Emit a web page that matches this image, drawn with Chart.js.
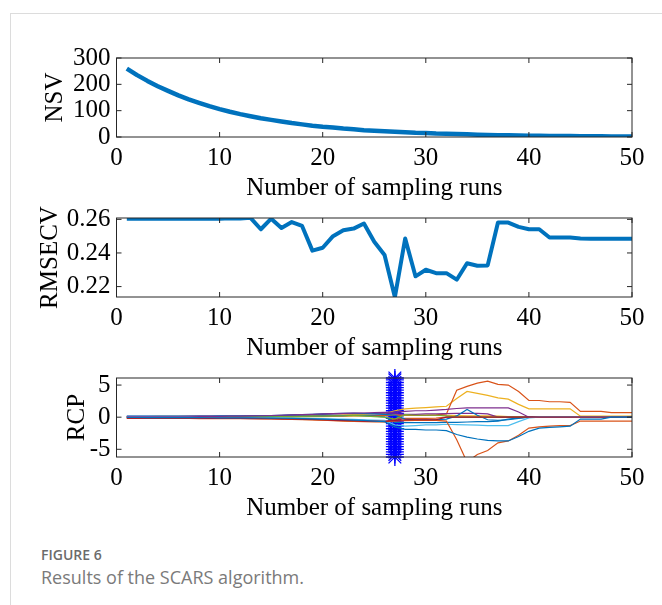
<!DOCTYPE html>
<html>
<head>
<meta charset="utf-8">
<script src="https://cdn.jsdelivr.net/npm/chart.js@4.4.0/dist/chart.umd.min.js"></script>
<style>
  body { margin: 0; width: 662px; height: 605px; background: #fff; overflow: hidden; position: relative; }
  .card { position: absolute; left: 10px; top: 13px; width: 700px; height: 700px; border: 1px solid #dcdcdc; }
  .plot { position: absolute; left: 0; width: 662px; height: 189px; }
  .fig { position: absolute; left: 41px; top: 545px; font: 600 14px "Open Sans", sans-serif; color: #6b6b6b; }
  .cap { position: absolute; left: 41px; top: 565px; font: 400 18px "Open Sans", sans-serif; color: #7a7a7a; }
</style>
</head>
<body>
<div class="card"></div>
<div class="plot" style="top:18px"><canvas id="nsvChart"></canvas></div>
<div class="plot" style="top:178px"><canvas id="rmsecvChart"></canvas></div>
<div class="plot" style="top:338px"><canvas id="rcpChart"></canvas></div>
<div class="fig">FIGURE 6</div>
<div class="cap">Results of the SCARS algorithm.</div>
<script>
const runs = [1,2,3,4,5,6,7,8,9,10,11,12,13,14,15,16,17,18,19,20,21,22,23,24,25,26,27,28,29,30,31,32,33,34,35,36,37,38,39,40,41,42,43,44,45,46,47,48,49,50];
const xTicks = [0, 10, 20, 30, 40, 50];

const nsv = [260,235,213,193,175,158,143,130,117,106,
             96,87,79,71,65,59,53,48,43,39,
             36,32,29,26,24,22,20,18,16,15,
             13,12,11,10,9,8,7,7,6,5,
             5,4,4,4,3,3,3,2,2,2];
const nsvTicks = [0, 100, 200, 300];

const rmsecv = [0.2604,0.2604,0.2604,0.2604,0.2604,0.2604,0.2604,0.2604,0.2604,0.2604,
                0.2606,0.2605,0.2609,0.2541,0.2604,0.2549,0.2584,0.2561,0.2414,0.2431,
                0.2500,0.2535,0.2545,0.2575,0.2467,0.2388,0.2137,0.2486,0.2261,0.2300,
                0.2280,0.2280,0.2241,0.2339,0.2324,0.2326,0.2581,0.2581,0.2555,0.2541,
                0.2541,0.2492,0.2492,0.2492,0.2486,0.2485,0.2485,0.2485,0.2485,0.2485];
const rmsecvTicks = [0.22, 0.24, 0.26];

// regression coefficient paths
const rcpA = [-0.05,-0.05,-0.06,-0.06,-0.07,-0.07,-0.08,-0.08,-0.09,-0.1,
              -0.1,-0.11,-0.12,-0.13,-0.15,-0.17,-0.2,-0.23,-0.27,-0.3,
              -0.35,-0.4,-0.45,-0.5,-0.6,-0.7,-1.5,-1.9,-1.9,-2.0,
              -2.0,-2.1,-2.7,-3.1,-3.4,-3.6,-3.7,-3.7,-3.0,-2.2,
              -1.7,-1.6,-1.5,-1.4,-0.3,-0.3,-0.3,0,0,0];
const rcpB = [0.05,0.05,0.06,0.06,0.07,0.07,0.08,0.08,0.09,0.1,
              0.1,0.1,0.11,0.12,0.12,0.13,0.14,0.15,0.16,0.18,
              0.2,0.2,0.22,0.24,0.25,0.27,0.3,0.3,0.3,0.3,
              0.35,0.5,4.2,4.8,5.3,5.6,5.1,5.0,4.0,2.6,
              2.6,2.4,2.4,2.3,0.9,0.9,0.9,0.7,0.7,0.7];
const rcpC = [-0.1,-0.1,-0.1,-0.11,-0.11,-0.12,-0.12,-0.13,-0.13,-0.14,
              -0.15,-0.16,-0.17,-0.19,-0.21,-0.24,-0.28,-0.33,-0.4,-0.45,
              -0.5,-0.55,-0.6,-0.62,-0.65,-0.68,-0.6,-0.55,-0.5,-0.5,
              -0.5,-0.6,-3.5,-7.0,-5.8,-5.2,-4.0,-3.7,-2.8,-1.7,
              -1.5,-1.4,-1.3,-1.3,-0.6,-0.6,-0.6,-0.6,-0.6,-0.6];
const rcpD = [0.1,0.1,0.1,0.11,0.11,0.12,0.12,0.12,0.13,0.13,
              0.14,0.14,0.15,0.16,0.17,0.18,0.2,0.22,0.25,0.28,
              0.3,0.35,0.4,0.45,0.5,0.6,1.0,1.3,1.4,1.5,
              1.6,1.7,2.9,4.0,3.7,3.4,3.0,2.8,2.0,1.3,
              1.3,1.3,1.3,1.3,0.15,0.15,0.15,0.15,0.15,0.15];
const rcpE = [0.08,0.08,0.09,0.09,0.1,0.1,0.11,0.12,0.13,0.14,
              0.15,0.17,0.19,0.22,0.26,0.3,0.35,0.4,0.45,0.5,
              0.55,0.6,0.62,0.65,0.7,0.75,0.8,0.9,1.0,1.0,
              1.1,1.2,1.35,1.45,1.45,1.45,1.45,1.45,0.8,0,
              0,0,0,0,0,0,0,0,0,0];
const rcpF = [0.02,0.02,0.02,0.03,0.03,0.03,0.03,0.04,0.04,0.04,
              0.05,0.05,0.06,0.06,0.07,0.08,0.1,0.12,0.15,0.18,
              0.2,0.22,0.25,0.2,0.1,0,-0.3,0.4,0.3,0.3,
              0.3,0.2,0,0,0,0,0,0,0,0,
              0,0,0,0,0,0,0,0,0,0];
const rcpG = [-0.02,-0.02,-0.03,-0.03,-0.03,-0.04,-0.04,-0.05,-0.05,-0.06,
              -0.06,-0.07,-0.08,-0.09,-0.1,-0.12,-0.14,-0.16,-0.2,-0.24,
              -0.28,-0.3,-0.35,-0.4,-0.45,-0.5,-1.2,-1.4,-1.3,-1.2,
              -1.2,-1.1,-1.15,-1.2,-1.25,-1.3,-1.3,-1.3,-0.7,-0.1,
              0,0,0,0,0,0,0,0,0,0];
const rcpH = [-0.15,-0.15,-0.15,-0.15,-0.16,-0.16,-0.17,-0.17,-0.18,-0.18,
              -0.19,-0.2,-0.21,-0.22,-0.24,-0.26,-0.28,-0.3,-0.35,-0.4,
              -0.45,-0.5,-0.55,-0.6,-0.62,-0.65,-0.5,-0.4,-0.4,-0.4,
              -0.4,0,0,0,0,0,0,0,0,0,
              0,0,0,0,0,0,0,0,0,0];
const rcpI = [0.15,0.15,0.15,0.16,0.16,0.17,0.17,0.18,0.18,0.19,
              0.2,0.21,0.22,0.24,0.26,0.3,0.35,0.4,0.45,0.5,
              0.55,0.6,0.6,0.55,0.5,0.45,0.3,-0.3,-0.4,-0.4,
              -0.4,-0.3,0.2,1.2,0.3,-0.4,-0.5,-0.4,-0.2,0,
              0,0,0,0,0,0,0,0,0,0];
const rcpJ = [-0.2,-0.2,-0.2,-0.2,-0.2,-0.2,-0.2,-0.21,-0.21,-0.22,
              -0.22,-0.23,-0.24,-0.25,-0.27,-0.3,-0.33,-0.37,-0.42,-0.48,
              -0.55,-0.6,-0.65,-0.7,-0.72,-0.75,-0.3,-0.2,-0.2,-0.2,
              -0.15,0,0,0,0,0,0,0,0,0,
              0,0,0,0,0,0,0,0,0,0];
const rcpK = [-0.05,-0.05,-0.05,-0.05,-0.05,-0.05,-0.05,-0.05,-0.05,-0.05,
              -0.05,-0.05,-0.04,-0.03,-0.02,0,0.02,0.05,0.08,0.1,
              0.12,0.15,0.18,0.2,0.22,0.25,0.4,0.3,0.3,0.3,
              0.3,0.3,0.25,0.2,0.2,0.2,0.15,0.1,0.05,0,
              0,0,0,0,0,0,0,0,0,0];
const rcpL = [0.03,0.03,0.03,0.03,0.04,0.04,0.04,0.04,0.05,0.05,
              0.05,0.06,0.06,0.07,0.08,0.1,0.12,0.15,0.18,0.2,
              0.22,0.25,0.3,0.25,0.15,0.05,-0.8,-0.85,-0.85,-0.85,
              -0.85,-0.8,-0.8,-0.75,-0.7,-0.7,-0.6,-0.3,-0.1,0,
              0,0,0,0,0,0,0,0,0,0];
const rcpM = [0.12,0.12,0.12,0.13,0.13,0.14,0.14,0.15,0.15,0.16,
              0.17,0.18,0.2,0.22,0.25,0.28,0.32,0.36,0.4,0.45,
              0.5,0.55,0.6,0.6,0.55,0.5,0.5,0.45,0.45,0.5,
              0.5,0.55,0.6,0.6,0.6,0.5,0,0,0,0,
              0,0,0,0,0,0,0,0,0,0];
const rcpSeries = [rcpA, rcpH, rcpC, rcpG, rcpE, rcpF, rcpL, rcpI, rcpM, rcpJ, rcpB, rcpD, rcpK];
const rcpColors = ['#0072BD', '#A2142F', '#D95319', '#4DBEEE', '#7E2F8E', '#77AC30', '#0072BD',
                   '#0072BD', '#7E2F8E', '#D95319', '#D95319', '#EDB120', '#EDB120'];
const rcpTicks = [-5, 0, 5];

// optimal run marked with a column of asterisks
const bestRun = 27;
const markY = [-6.2,-5.8,-5.4,-5.0,-4.6,-4.2,-3.8,-3.4,-3.0,-2.6,-2.2,-1.8,-1.4,-1.0,-0.6,-0.2,
               0.2,0.6,1.0,1.4,1.8,2.2,2.6,3.0,3.4,3.8,4.2,4.6,5.0,5.4,5.8,6.1];

const serif = '"Liberation Serif", "Times New Roman", serif';
Chart.defaults.font.family = serif;
Chart.defaults.color = '#000';

const frame = {
  id: 'frame',
  afterDraw(chart) {
    const {ctx, chartArea: a, scales: {x, y}} = chart;
    ctx.save();
    ctx.strokeStyle = '#262626';
    ctx.lineWidth = 1;
    ctx.strokeRect(a.left, a.top, a.right - a.left, a.bottom - a.top);
    ctx.beginPath();
    x.ticks.forEach(t => {
      const p = x.getPixelForValue(t.value);
      ctx.moveTo(p, a.bottom); ctx.lineTo(p, a.bottom - 5);
      ctx.moveTo(p, a.top); ctx.lineTo(p, a.top + 5);
    });
    y.ticks.forEach(t => {
      const p = y.getPixelForValue(t.value);
      ctx.moveTo(a.left, p); ctx.lineTo(a.left + 5, p);
      ctx.moveTo(a.right, p); ctx.lineTo(a.right - 5, p);
    });
    ctx.stroke();
    ctx.restore();
  }
};

function pts(ys) {
  return runs.map((r, i) => ({x: r, y: ys[i]}));
}

function opts(yMin, yMax, yTicks, yTitle, titlePad, fmt) {
  return {
    responsive: true,
    maintainAspectRatio: false,
    animation: false,
    layout: {padding: {top: 40, right: 30, left: 0, bottom: 0}},
    plugins: {legend: {display: false}, tooltip: {enabled: false}},
    scales: {
      x: {
        type: 'linear', min: 0, max: 50,
        afterBuildTicks: s => { s.ticks = xTicks.map(v => ({value: v})); },
        afterFit: s => { s.height = 70; },
        grid: {display: false, drawTicks: false},
        border: {display: false},
        ticks: {padding: 6, maxRotation: 0, autoSkip: false, font: {size: 25}},
        title: {display: true, text: 'Number of sampling runs', font: {size: 25}, padding: {top: 0, bottom: 4}}
      },
      y: {
        type: 'linear', min: yMin, max: yMax,
        afterBuildTicks: s => { s.ticks = yTicks.map(v => ({value: v})); },
        afterFit: s => { s.width = 116.5; },
        grid: {display: false, drawTicks: false},
        border: {display: false},
        ticks: {padding: 6, autoSkip: false, font: {size: 25}, callback: fmt},
        title: {display: true, text: yTitle, font: {size: 25}, padding: {top: titlePad, bottom: 0}}
      }
    }
  };
}

new Chart(document.getElementById('nsvChart'), {
  type: 'line',
  data: {datasets: [{data: pts(nsv), borderColor: '#0072BD', borderWidth: 4.5, pointRadius: 0, tension: 0, borderJoinStyle: 'round'}]},
  options: opts(0, 300, nsvTicks, 'NSV', 40, v => v),
  plugins: [frame]
});

new Chart(document.getElementById('rmsecvChart'), {
  type: 'line',
  data: {datasets: [{data: pts(rmsecv), borderColor: '#0072BD', borderWidth: 4, pointRadius: 0, tension: 0, borderJoinStyle: 'round'}]},
  options: opts(0.2138, 0.2608, rmsecvTicks, 'RMSECV', 35, v => v.toFixed(2)),
  plugins: [frame]
});

const rcpSets = rcpSeries.map((s, i) => ({
  data: pts(s), borderColor: rcpColors[i], borderWidth: 1.2, pointRadius: 0, tension: 0
}));
rcpSets.push({
  type: 'scatter',
  data: markY.map(v => ({x: bestRun, y: v})),
  showLine: false,
  pointStyle: 'star',
  pointRadius: 9,
  borderColor: '#0000FF',
  backgroundColor: '#0000FF',
  pointBorderWidth: 1.3,
  clip: false
});

new Chart(document.getElementById('rcpChart'), {
  type: 'line',
  data: {datasets: rcpSets},
  options: opts(-6.2, 6.1, rcpTicks, 'RCP', 62, v => v),
  plugins: [frame]
});
</script>
</body>
</html>
